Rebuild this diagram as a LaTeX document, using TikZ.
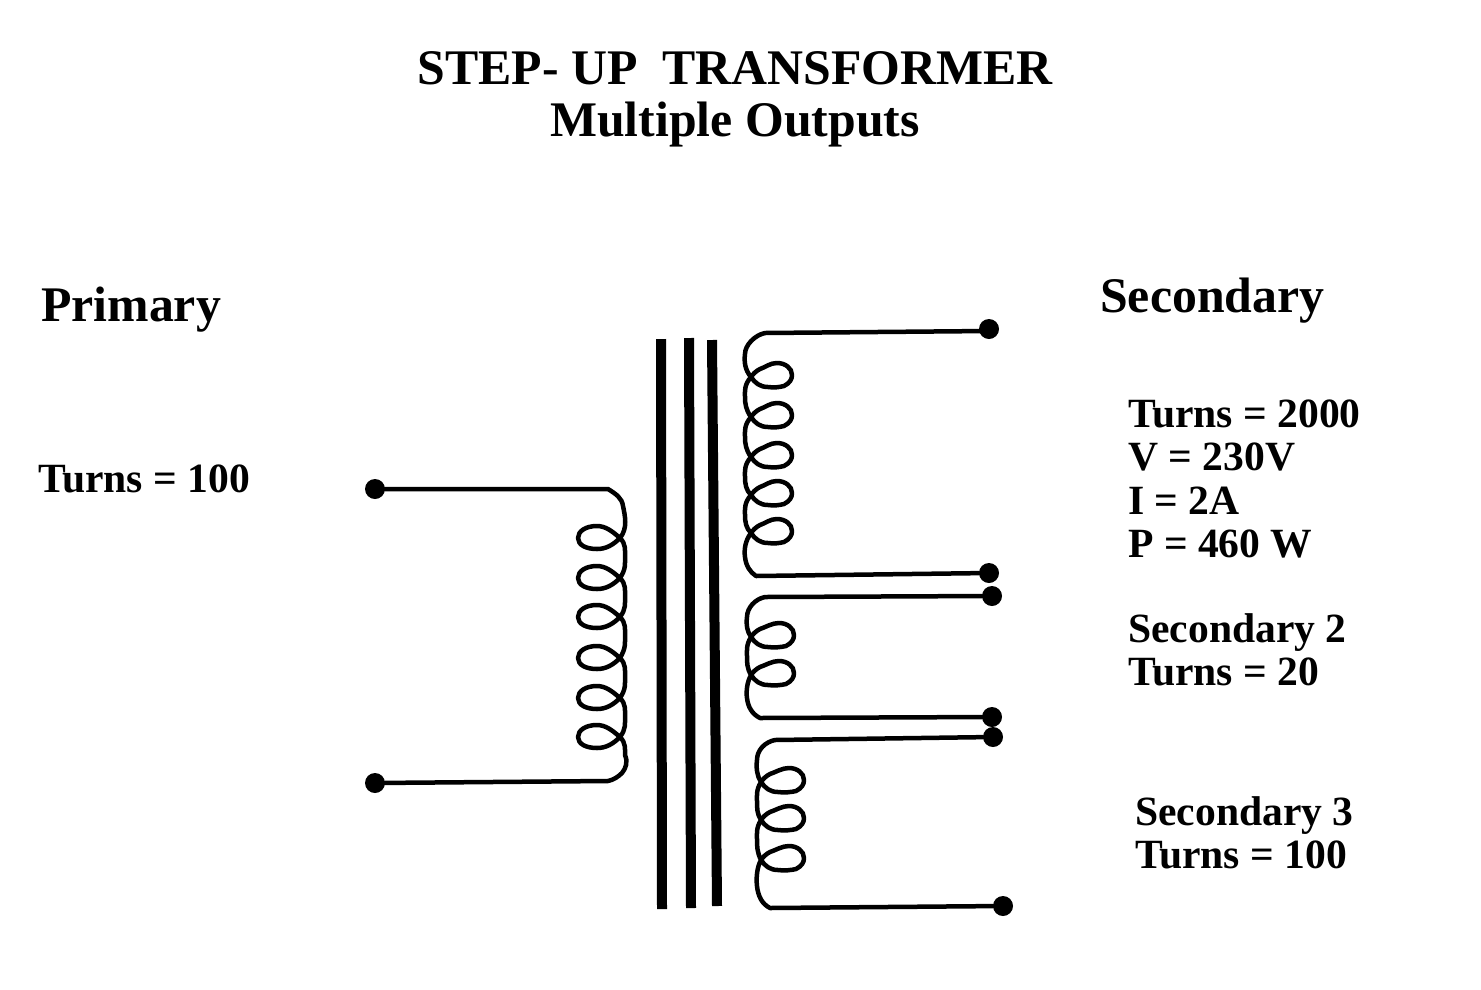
\documentclass[tikz,border=0pt]{standalone}
\usepackage{fontspec}
\setmainfont{Liberation Serif}
\tikzset{
  wire/.style={line width=4.5pt,line cap=round,line join=round,black},
  corebar/.style={line width=10pt,black},
  terminal/.style={circle,fill=black,draw=none,minimum size=20pt,inner sep=0pt},
  big/.style={font=\bfseries\fontsize{49.8}{52}\selectfont,inner sep=0pt,align=center},
  small/.style={font=\bfseries\fontsize{41.6}{43.4}\selectfont,inner sep=0pt,align=left,anchor=north west},
}
\begin{document}
\begin{tikzpicture}[x=1pt,y=-1pt]
\useasboundingbox (0,0) rectangle (1481,989);
% texts
\node[big] (title) at (735,99) {STEP- UP\ \ TRANSFORMER\\Multiple Outputs};
\node[big,anchor=base west] (prim) at (41,321) {Primary};
\node[big,anchor=base west] (sec) at (1100,312) {Secondary};
\node[small] (tp) at (38,465) {Turns = 100};
\node[small] (t1) at (1128,399.5) {Turns = 2000\\V = 230V\\I = 2A\\P = 460 W};
\node[small] (t2) at (1128,613) {Secondary 2\\Turns = 20};
\node[small] (t3) at (1135,796) {Secondary 3\\Turns = 100};
% core
\draw[corebar] (661,339) -- (662,909);
\draw[corebar] (689,338) -- (691,908);
\draw[corebar] (712,340) -- (717,906);
% terminals
\node[terminal] (pa) at (375,489) {};
\node[terminal] (pb) at (375,783) {};
\node[terminal] (s1a) at (989,329) {};
\node[terminal] (s1b) at (989,573) {};
\node[terminal] (s2a) at (992,596) {};
\node[terminal] (s2b) at (992,717) {};
\node[terminal] (s3a) at (993,737) {};
\node[terminal] (s3b) at (1003,906) {};
% primary
\draw[wire] (pa) -- (608,489) .. controls (616,494) and (622,498) .. (623,506)
  .. controls (625,516) and (628,528) .. (620,538)
  foreach \y/\n in {538/578,578/617,617/658,658/698,698/737,737/0} {
    .. controls (613,\y+7) and (606,\y+11) .. (597,\y+11)
    .. controls (586,\y+11) and (578,\y+7) .. (578,\y)
    .. controls (578,\y-7) and (586,\y-12) .. (597,\y-12)
    .. controls (606,\y-12) and (613,\y-6) .. (620,\y)
    .. controls (626,\y+6) and (625,\y+12) .. (625,\y+18)
    \ifnum\n>0 .. controls (625,\y+26) and (626,\y+31) .. (620,\n) \fi
  }
  .. controls (628,762) and (626,768) .. (622,773) .. controls (618,777) and (613,780) .. (608,781) -- (pb);
% secondary 1
\draw[wire] ([yshift=-2pt]s1a.center) -- (765,333) .. controls (755,335) and (745,345) .. (745,354)
  .. controls (744,362) and (745,370) .. (751,377)
  foreach \y/\n in {377/417,417/457,457/495,495/533,533/0} {
    .. controls (755,\y+6) and (760,\y+10) .. (768,\y+10)
    .. controls (774,\y+11) and (780,\y+10) .. (784,\y+9)
    .. controls (790,\y+6) and (792,\y+2) .. (792,\y-2)
    .. controls (792,\y-9) and (785,\y-14) .. (777,\y-14)
    .. controls (770,\y-14) and (766,\y-10) .. (760,\y-8)
    .. controls (756,\y-6) and (753,\y-3) .. (751,\y)
    \ifnum\n>0 .. controls (744,\y+8) and (745,\y+14) .. (745,\y+20)
    .. controls (745,\y+27) and (746,\y+33) .. (751,\n) \fi
  }
  .. controls (745,541) and (744,550) .. (745,557) .. controls (746,566) and (750,572) .. (756,576) -- (s1b);
% secondary 2
\draw[wire] (s2a) -- (765,597) .. controls (755,599) and (747,608) .. (747,617)
  .. controls (746,625) and (747,631) .. (751,637)
  foreach \y/\n in {637/675,675/0} {
    .. controls (755,\y+6) and (760,\y+10) .. (768,\y+10)
    .. controls (774,\y+11) and (782,\y+10) .. (786,\y+9)
    .. controls (792,\y+6) and (794,\y+2) .. (794,\y-2)
    .. controls (794,\y-9) and (787,\y-14) .. (779,\y-14)
    .. controls (772,\y-14) and (766,\y-10) .. (760,\y-8)
    .. controls (756,\y-6) and (753,\y-3) .. (751,\y)
    \ifnum\n>0 .. controls (746,\y+8) and (747,\y+14) .. (747,\y+19)
    .. controls (747,\y+26) and (747,\y+31) .. (751,\n) \fi
  }
  .. controls (747,682) and (746,692) .. (747,698) .. controls (748,707) and (752,714) .. (760,718) -- (s2b);
% secondary 3
\draw[wire] (s3a) -- (775,740) .. controls (765,742) and (757,750) .. (757,760)
  .. controls (756,768) and (757,776) .. (761,782)
  foreach \y/\n in {782/820,820/860,860/0} {
    .. controls (765,\y+6) and (770,\y+10) .. (778,\y+10)
    .. controls (784,\y+11) and (792,\y+10) .. (796,\y+9)
    .. controls (802,\y+6) and (804,\y+2) .. (804,\y-2)
    .. controls (804,\y-9) and (797,\y-14) .. (789,\y-14)
    .. controls (782,\y-14) and (776,\y-10) .. (770,\y-8)
    .. controls (766,\y-6) and (763,\y-3) .. (761,\y)
    \ifnum\n>0 .. controls (756,\y+8) and (757,\y+14) .. (757,\y+19)
    .. controls (757,\y+26) and (757,\y+32) .. (761,\n) \fi
  }
  .. controls (757,867) and (756,878) .. (757,886) .. controls (758,896) and (762,904) .. (770,908) -- (s3b);
\end{tikzpicture}
\end{document}
